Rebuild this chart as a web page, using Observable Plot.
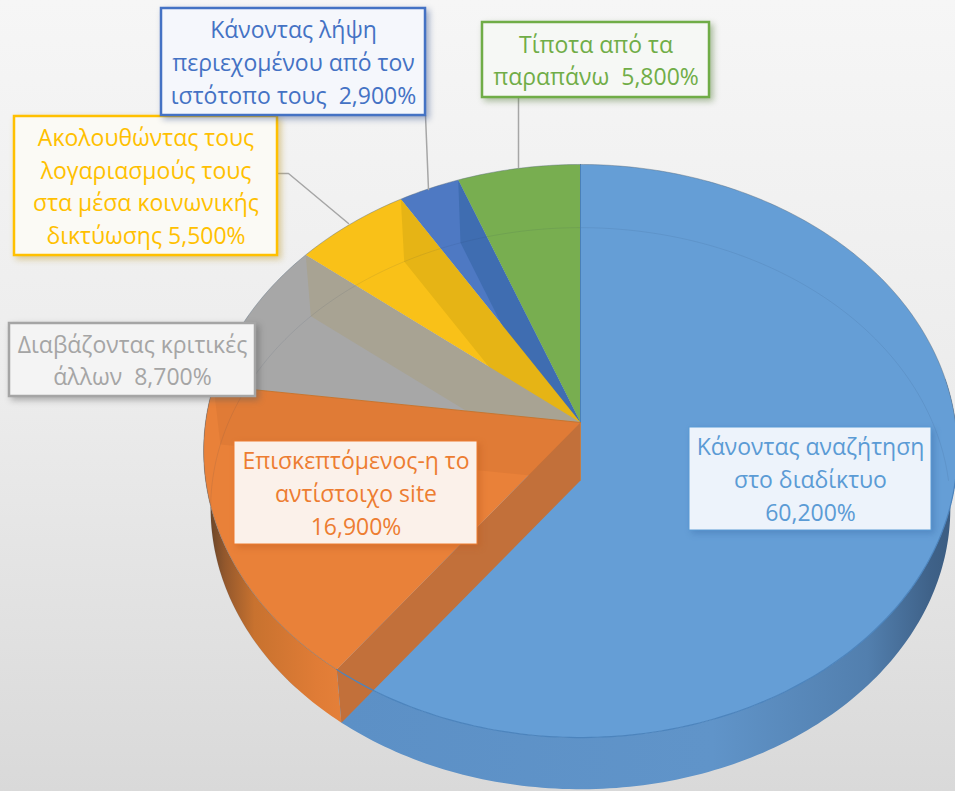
<!DOCTYPE html>
<html>
<head>
<meta charset="utf-8">
<script src="https://cdn.jsdelivr.net/npm/d3@7"></script>
<script src="https://cdn.jsdelivr.net/npm/@observablehq/plot@0.6"></script>
<style>
html,body{margin:0;padding:0;background:#fff;overflow:hidden}
svg{display:block}
</style>
</head>
<body>
<div id="chart"></div>
<script>
// ---- data (pie order: clockwise from 12 o'clock) ----
const categories = [
  "Κάνοντας αναζήτηση\nστο διαδίκτυο",
  "Επισκεπτόμενος-η το\nαντίστοιχο site",
  "Διαβάζοντας κριτικές\nάλλων",
  "Ακολουθώντας τους\nλογαριασμούς τους\nστα μέσα κοινωνικής\nδικτύωσης",
  "Κάνοντας λήψη\nπεριεχομένου από τον\nιστότοπο τους",
  "Τίποτα από τα\nπαραπάνω"
];
const values = [60.2, 16.9, 8.7, 5.5, 2.9, 5.8];
const separators = ["\n", "\n", "  ", " ", "  ", "  "];

// ---- styles ----
const topColors  = ["#659ed6", "#e98139", "#a7a7a7", "#f9c118", "#4e79c3", "#78ae50"];
const wallColors = ["#c2703a", "#e07b36", "#a8a393", "#e6b415", "#3f6db1", "#5f93c9"];
const edgeColors = ["#4a80b8", "#c96f2e", "#c8752f", "#9a8f72", "#c9a020", "#3f6db1"];
const boxBorder  = ["#5b9bd5", "#ed7d31", "#a5a5a5", "#ffc000", "#4472c4", "#70ad47"];
const textColors = ["#5b9bd5", "#ed7d31", "#a5a5a5", "#ffc000", "#4472c4", "#70ad47"];
const boxFill    = ["#edf3fb", "#fbf1ea", "#f4f4f4", "#fbfaf5", "#f5f7fc", "#f6f8f5"];
const boxStrokeW = [1, 1, 2.5, 2.5, 2.5, 2.5];
const shadowRGB  = ["60,110,170", "190,90,30", "90,90,90", "190,150,30", "50,80,140", "80,120,50"];
// label box layout: left, top, right, bottom
const boxLeft   = [689, 234, 9, 14, 161, 482];
const boxTop    = [427, 441, 323, 116, 8, 22];
const boxRight  = [931, 477, 255, 277, 425, 709];
const boxBottom = [530, 544, 396, 255, 115, 97];

// leader lines
const leaderGroup = ["g","g","b","b","y","y","y"];
const leaderX = [518, 518, 425, 428, 278, 288, 348];
const leaderY = [97, 167, 115, 189, 173, 173, 223];

// ---- pie geometry in perspective ----
const topPlane = {cx: 580, cy: 422, a: 375, b: 283.7};
const basePlane = {cx: 580, cy: 480, a: 368, b: 278};
const persp = 0.0995;
const project = (p, t) => {
  const u = Math.sin(t), v = Math.cos(t), w = 1 + persp * v;
  return {x: p.cx + p.a * u / w, y: p.cy - p.b * v / w};
};
const arcOf = (p, t0, t1) => {
  const n = Math.max(2, Math.ceil(Math.abs(t1 - t0) * 60));
  return d3.range(n + 1).map(i => project(p, t0 + (t1 - t0) * i / n));
};
const total = d3.sum(values);
const cum = d3.cumsum(values);
const endA = cum.map(c => c / total * 2 * Math.PI);
const startA = endA.map((e, i) => i ? endA[i - 1] : 0);
const apexTop = {x: topPlane.cx, y: topPlane.cy};
const apexBase = {x: basePlane.cx, y: basePlane.cy};

const faces = [];
const addFace = (id, color, pts) => pts.forEach(p => faces.push({id, color, x: p.x, y: p.y}));

// outer walls
addFace("outerOrange", "url(#wallOrange)", [
  ...arcOf(topPlane, startA[1], endA[1]),
  ...arcOf(basePlane, endA[1], startA[1])
]);
addFace("outerBlue", "url(#wallBlue)", [
  ...arcOf(topPlane, Math.PI * 0.45, endA[0]),
  ...arcOf(basePlane, endA[0], Math.PI * 0.45)
]);
// top faces
values.forEach((_, i) => addFace("top" + i, topColors[i], [apexTop, ...arcOf(topPlane, startA[i], endA[i])]));
// inner walls, back to front
[4, 3, 2, 1, 0].forEach(i => {
  const a = endA[i];
  addFace("wall" + i, wallColors[i], [apexTop, project(topPlane, a), project(basePlane, a), apexBase]);
});

// faint outlines seen through the pie
const lines = [];
const addLine = (id, pts) => pts.forEach(p => lines.push({id, x: p.x, y: p.y}));
addLine("base", arcOf(basePlane, endA[1] - 0.9, 2 * Math.PI + Math.PI * 0.5));

const rimFront = arcOf(topPlane, Math.PI * 0.5, endA[0]);
const rimBack = arcOf(topPlane, startA[1], 2 * Math.PI + Math.PI * 0.5);

// slice edges on the top face: blue start, orange/grey boundary
const edges = [];
[0, 2].forEach(i => {
  edges.push({id: i, ...apexTop, c: edgeColors[i]});
  const p = project(topPlane, startA[i]);
  edges.push({id: i, x: p.x, y: p.y, c: edgeColors[i]});
});

// labels
const fmt = d3.formatLocale({decimal: ",", thousands: ".", grouping: [3], currency: ["", "€"]}).format(".3f");
const labels = categories.map((c, i) => ({
  text: c + separators[i] + fmt(values[i]) + "%",
  color: textColors[i], border: boxBorder[i], fill: boxFill[i], sw: boxStrokeW[i], shadow: shadowRGB[i],
  x1: boxLeft[i], y1: boxTop[i], x2: boxRight[i], y2: boxBottom[i]
}));

const leaders = leaderX.map((x, i) => ({x, y: leaderY[i], g: leaderGroup[i]}));

const defs = () => {
  const d = d3.create("svg:defs");
  const grad = (id, x1, x2, stops) => {
    const g = d.append("linearGradient").attr("id", id)
      .attr("gradientUnits", "userSpaceOnUse")
      .attr("x1", x1).attr("x2", x2).attr("y1", 0).attr("y2", 0);
    stops.forEach(([o, c]) => g.append("stop").attr("offset", o).attr("stop-color", c));
  };
  grad("wallBlue", 340, 960, [[0, "#5c90c6"], [0.6, "#6094c9"], [0.85, "#527fae"], [0.95, "#3f6289"], [1, "#3a5a7e"]]);
  grad("wallOrange", 205, 345, [[0, "#5e4028"], [0.14, "#94582c"], [0.35, "#c8722f"], [0.8, "#e07c36"], [1, "#e58039"]]);
  return d.node();
};

const chart = Plot.plot({
  width: 955, height: 791,
  margin: 0,
  style: {background: "linear-gradient(to bottom, #f6f6f6 0%, #ececec 50%, #d9d9d9 100%)", fontFamily: "'Open Sans', sans-serif"},
  x: {domain: [0, 955], range: [0, 955], axis: null},
  y: {domain: [0, 791], range: [0, 791], axis: null},
  color: {type: "identity"},
  marks: [
    defs,
    Plot.line(faces, {x: "x", y: "y", z: "id", fill: "color", stroke: "none"}),
    Plot.line(lines, {x: "x", y: "y", z: "id", stroke: "#1f3a5a", strokeOpacity: 0.12, strokeWidth: 0.8}),
    Plot.line(edges, {x: "x", y: "y", z: "id", stroke: "c", strokeWidth: 1}),
    Plot.line(rimFront, {x: "x", y: "y", stroke: "#4c84bd", strokeWidth: 1.2}),
    Plot.line(rimBack, {x: "x", y: "y", stroke: "#5a6b7c", strokeOpacity: 0.55, strokeWidth: 0.8}),
    Plot.line(leaders, {x: "x", y: "y", z: "g", stroke: "#a6a6a6", strokeWidth: 1.5}),
    ...labels.map(d => Plot.rect([d], {
      x1: "x1", y1: "y1", x2: "x2", y2: "y2",
      fill: "fill", stroke: "border", strokeWidth: "sw",
      imageFilter: `drop-shadow(3px 3px 3px rgba(${d.shadow},0.45))`
    })),
    Plot.text(labels, {
      x: d => (d.x1 + d.x2) / 2, y: d => (d.y1 + d.y2) / 2,
      text: "text", fill: "color", fontSize: 23, lineHeight: 1.42, dy: -1.5,
      textAnchor: "middle", frameAnchor: "middle"
    })
  ]
});
document.getElementById("chart").append(chart);
</script>
</body>
</html>
